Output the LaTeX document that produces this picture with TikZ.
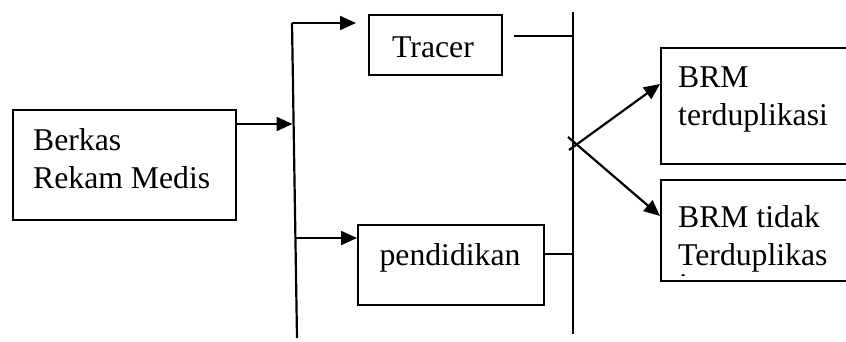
\documentclass[tikz,border=0pt]{standalone}
\usepackage{fontspec}
\setmainfont{Liberation Serif}
\usetikzlibrary{arrows.meta}
\begin{document}
\begin{tikzpicture}[x=1pt,y=-1pt,
  box/.style={draw, line width=2pt, rectangle, inner sep=0pt, anchor=north west},
  txt/.style={inner sep=0pt, font=\fontsize{31.7}{38}\selectfont},
  ln/.style={line width=2.2pt},
  arr/.style={line width=2.2pt, -{Triangle[length=16pt,width=14pt]}}]
\useasboundingbox (0,0) rectangle (846,341);
\clip (0,0) rectangle (846,341);
% boxes
\node[box, minimum width=223pt, minimum height=110pt] (berkas) at (12,109) {};
\node[box, minimum width=133pt, minimum height=60pt] (tracer) at (368,14) {};
\node[box, minimum width=186pt, minimum height=80pt] (pend) at (357,224) {};
\node[box, minimum width=230pt, minimum height=116pt] (brm1) at (660,47) {};
\node[box, minimum width=230pt, minimum height=101pt] (brm2) at (660,179) {};
% texts
\node[txt, anchor=base west] (tb1) at (33,150) {Berkas};
\node[txt, anchor=base west] (tb2) at (33,188) {Rekam Medis};
\node[txt, anchor=base] (tt) at (433,57) {Tracer};
\node[txt, anchor=base] (tp) at (450,265) {pendidikan};
\node[txt, anchor=base west] (tr1) at (678,87) {BRM};
\node[txt, anchor=base west] (tr2) at (678,125) {terduplikasi};
\node[txt, anchor=base west] (tr3) at (678,227) {BRM tidak};
\node[txt, anchor=base west] (tr4) at (678,265) {Terduplikas};
\begin{scope}
\clip (662,262) rectangle (846,275.5);
\node[txt, anchor=base west] (tr5) at (679,295) {i};
\end{scope}
% vertical bus lines
\coordinate (v1top) at (292,23);
\coordinate (v1bot) at (297,338);
\coordinate (v1in) at (292.5,124);
\coordinate (v1low) at (296,238);
\coordinate (v2top) at (573,12);
\coordinate (v2bot) at (573,334);
\coordinate (trin) at (356,23);
\coordinate (trout) at (514,36);
\coordinate (v2tr) at (573,36);
\coordinate (v2pd) at (573,254);
\coordinate (xa) at (569,150);
\coordinate (xb) at (568,137);
\draw[ln] (v1top) -- (v1bot);
\draw[ln] (v2top) -- (v2bot);
% connectors
\draw[arr] ([yshift=-15pt]berkas.north east) -- (v1in);
\draw[arr] (v1top) -- (trin);
\draw[arr] (v1low) -- (pend.west |- v1low);
\draw[ln] (trout) -- (v2tr);
\draw[ln] (pend.east |- v2pd) -- (v2pd);
\draw[arr] (xa) -- ([yshift=22pt]brm1.west);
\draw[arr] (xb) -- ([yshift=14.5pt]brm2.west);
\end{tikzpicture}
\end{document}
